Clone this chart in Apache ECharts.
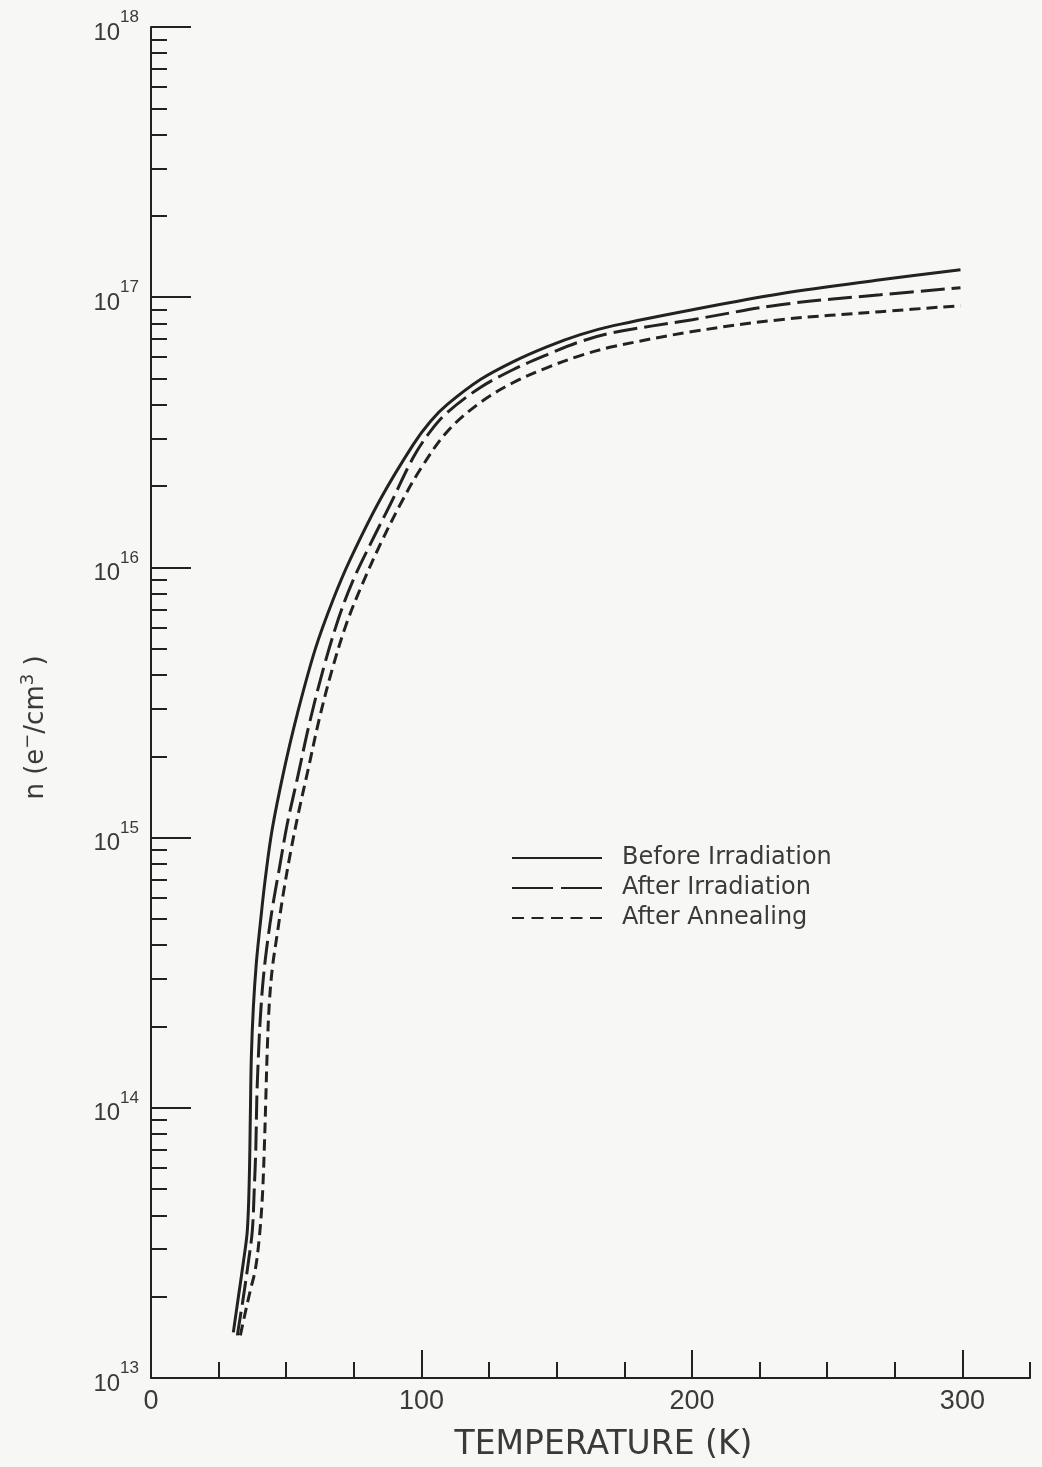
<!DOCTYPE html>
<html>
<head>
<meta charset="utf-8">
<script src="https://cdn.jsdelivr.net/npm/echarts@6/dist/echarts.min.js"></script>
<style>
html,body{margin:0;padding:0;background:#f7f7f5;}
#chart{width:1042px;height:1467px;}
</style>
</head>
<body>
<div id="chart"></div>
<script>
// Temperature (K) and electron concentration n (e-/cm^3)
const beforeT = [30.44, 32.28, 34.13, 35.61, 36.35, 36.72, 37.09, 37.83, 38.94, 40.42, 42.27, 44.86, 49.30, 54.10, 60.76, 67.42, 73.71, 84.80, 97.00, 103.29, 109.57, 121.78, 133.99, 146.56, 158.76, 170.97, 200.18, 232.73, 269.71, 299.30];
const beforeN = [1.475e13, 1.986e13, 2.675e13, 3.511e13, 5.511e13, 9.177e13, 1.529e14, 2.338e14, 3.429e14, 4.818e14, 7.063e14, 1.080e15, 1.800e15, 2.872e15, 4.993e15, 7.636e15, 1.073e16, 1.787e16, 2.853e16, 3.469e16, 4.009e16, 4.958e16, 5.779e16, 6.566e16, 7.270e16, 7.847e16, 8.991e16, 1.030e17, 1.160e17, 1.264e17];

const afterIrrT = [31.92, 34.13, 35.98, 37.46, 38.20, 38.76, 39.13, 39.68, 40.42, 41.53, 43.01, 44.86, 47.45, 50.41, 54.10, 58.54, 63.72, 69.27, 74.44, 81.10, 88.50, 97.00, 103.29, 109.57, 121.78, 133.99, 146.56, 158.76, 170.97, 200.18, 232.73, 269.71, 299.30];
const afterIrrN = [1.438e13, 1.986e13, 2.675e13, 3.511e13, 5.062e13, 7.110e13, 1.088e14, 1.529e14, 2.148e14, 3.018e14, 4.063e14, 5.472e14, 7.690e14, 1.128e15, 1.653e15, 2.639e15, 4.211e15, 6.442e15, 8.825e15, 1.219e16, 1.713e16, 2.555e16, 3.187e16, 3.746e16, 4.632e16, 5.399e16, 6.134e16, 6.851e16, 7.395e16, 8.258e16, 9.383e16, 1.021e17, 1.084e17];

const annealT = [33.03, 34.87, 36.72, 38.57, 40.05, 41.16, 41.90, 42.46, 43.01, 43.75, 44.86, 46.71, 48.93, 51.52, 54.47, 58.17, 62.24, 67.05, 72.23, 78.14, 84.80, 92.20, 99.59, 109.57, 121.78, 133.99, 146.56, 158.76, 170.97, 200.18, 232.73, 269.71, 299.30];
const annealN = [1.438e13, 1.748e13, 2.109e13, 2.520e13, 3.308e13, 4.648e13, 7.110e13, 1.088e14, 1.665e14, 2.440e14, 3.286e14, 4.425e14, 6.217e14, 8.737e14, 1.227e15, 1.800e15, 2.754e15, 4.211e15, 6.173e15, 8.676e15, 1.219e16, 1.713e16, 2.307e16, 3.187e16, 4.078e16, 4.834e16, 5.491e16, 6.081e16, 6.566e16, 7.459e16, 8.258e16, 8.841e16, 9.303e16];

const seriesNames = ['Before Irradiation', 'After Irradiation', 'After Annealing'];

// Axis ticks
const xLabelValues = [0, 100, 200, 300];
const xMajorTicks = [100, 200, 300];
const xMinorTicks = [25, 50, 75, 125, 150, 175, 225, 250, 275, 325];
const yExponents = [13, 14, 15, 16, 17, 18];
const yMinorMultipliers = [2, 3, 4, 5, 6, 7, 8, 9];

const yMin = 1e13, yMax = 1e18;
// keep tick values inside the (float) axis extent
const yDecades = yExponents.map(e => Math.min(Math.pow(10, e), yMax * 0.99999));
const yMinorTicks = [];
yExponents.slice(0, -1).forEach(e => yMinorMultipliers.forEach(m => yMinorTicks.push(m * Math.pow(10, e))));

function zip(a, b) { return a.map((v, i) => [v, b[i]]); }

const ink = '#222';
const txt = '#3a3a3a';

const chart = echarts.init(document.getElementById('chart'));
chart.setOption({
  backgroundColor: '#f7f7f5',
  animation: false,
  grid: { left: 151, right: 12, top: 27, bottom: 86, containLabel: false },
  legend: {
    left: 511, top: 846, orient: 'vertical', padding: 0,
    itemWidth: 90, itemHeight: 14, itemGap: 6,
    itemStyle: { opacity: 0 },
    textStyle: { fontFamily: 'DejaVu Sans', fontSize: 24, color: txt, lineHeight: 24, padding: [0, 0, 0, 15] },
    data: [
      { name: seriesNames[0] },
      { name: seriesNames[1], lineStyle: { type: [41, 8] } },
      { name: seriesNames[2], lineStyle: { type: [12, 7.5] } }
    ]
  },
  xAxis: [
    {
      type: 'value', position: 'bottom', min: 0, max: 325,
      axisLine: { onZero: false, lineStyle: { color: ink, width: 2 } },
      axisTick: { inside: true, length: 28, customValues: xMajorTicks, lineStyle: { color: ink, width: 2 } },
      axisLabel: { customValues: xLabelValues, margin: 10, fontFamily: 'Liberation Sans', fontSize: 27, color: txt },
      splitLine: { show: false },
      name: 'TEMPERATURE (K)', nameLocation: 'middle', nameGap: 51,
      nameTextStyle: { fontFamily: 'DejaVu Sans', fontSize: 33, color: txt, padding: [0, 0, 0, 26] }
    },
    {
      type: 'value', position: 'bottom', min: 0, max: 325,
      axisLine: { show: false, onZero: false },
      axisTick: { inside: true, length: 16, customValues: xMinorTicks, lineStyle: { color: ink, width: 2 } },
      axisLabel: { show: false },
      splitLine: { show: false }
    }
  ],
  yAxis: [
    {
      type: 'log', logBase: 10, position: 'left', min: yMin, max: yMax,
      axisLine: { show: true, onZero: false, lineStyle: { color: ink, width: 2 } },
      axisTick: { show: true, inside: true, length: 40, customValues: yDecades, lineStyle: { color: ink, width: 2 } },
      axisLabel: {
        customValues: yDecades, margin: 12,
        formatter: v => '{b|10}{s|' + Math.round(Math.log10(v)) + '}',
        rich: {
          b: { fontFamily: 'Liberation Sans', fontSize: 24, color: txt, lineHeight: 36, verticalAlign: 'bottom' },
          s: { fontFamily: 'Liberation Sans', fontSize: 17, color: txt, verticalAlign: 'top' }
        }
      },
      splitLine: { show: false },
      name: 'n (e{s|−}/cm{s|3} )', nameLocation: 'middle', nameRotate: 90, nameGap: 98,
      nameTextStyle: {
        fontFamily: 'DejaVu Sans', fontSize: 26, color: txt, padding: [0, 50, 0, 0], lineHeight: 34,
        rich: { s: { fontFamily: 'DejaVu Sans', fontSize: 18, color: txt, verticalAlign: 'top' } }
      }
    },
    {
      type: 'log', logBase: 10, position: 'left', min: yMin, max: yMax,
      axisLine: { show: false, onZero: false },
      axisTick: { show: true, inside: true, length: 16, customValues: yMinorTicks, lineStyle: { color: ink, width: 2 } },
      axisLabel: { show: false },
      splitLine: { show: false }
    }
  ],
  series: [
    {
      name: seriesNames[0], type: 'line', xAxisIndex: 0, yAxisIndex: 0,
      data: zip(beforeT, beforeN), showSymbol: false, symbol: 'none', smooth: 0.35,
      lineStyle: { color: ink, width: 3, type: 'solid' }, itemStyle: { color: ink }
    },
    {
      name: seriesNames[1], type: 'line', xAxisIndex: 0, yAxisIndex: 0,
      data: zip(afterIrrT, afterIrrN), showSymbol: false, symbol: 'none', smooth: 0.35,
      lineStyle: { color: ink, width: 3, type: [24, 7] }, itemStyle: { color: ink }
    },
    {
      name: seriesNames[2], type: 'line', xAxisIndex: 0, yAxisIndex: 0,
      data: zip(annealT, annealN), showSymbol: false, symbol: 'none', smooth: 0.35,
      lineStyle: { color: ink, width: 3, type: [11, 6] }, itemStyle: { color: ink }
    }
  ]
});
</script>
</body>
</html>
